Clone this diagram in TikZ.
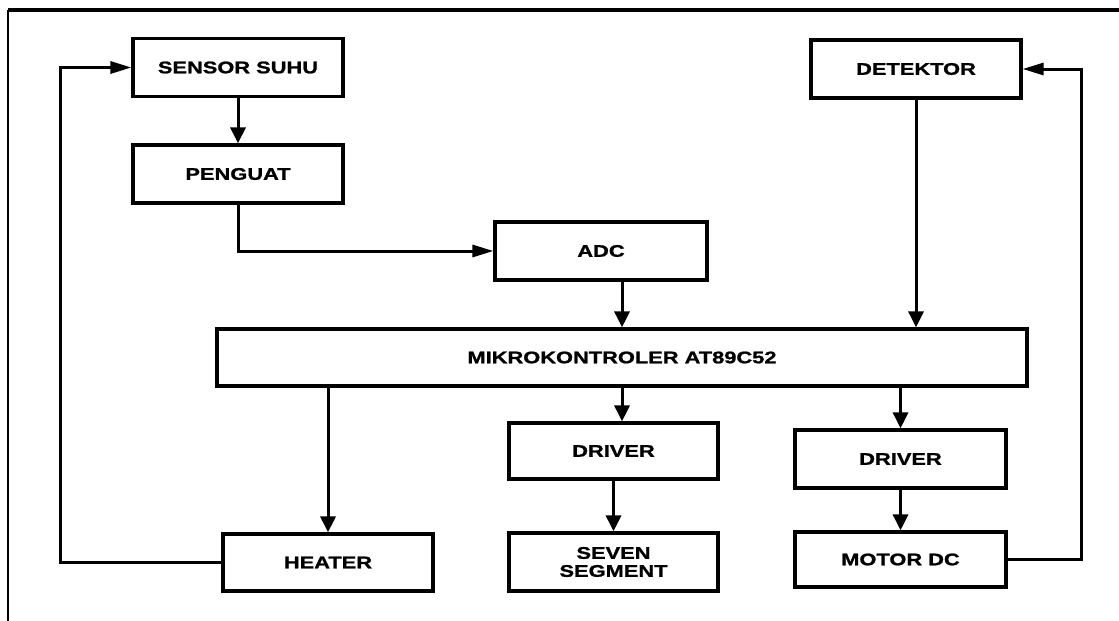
\documentclass[tikz,border=0pt]{standalone}
\usepackage{fontspec}
\newfontfamily\blokfont{Liberation Sans}[FakeStretch=1.3,BoldFeatures={FakeBold=1.2}]
\usepackage{tikz}
\usetikzlibrary{arrows.meta}

\begin{document}
\begin{tikzpicture}[x=1pt,y=-1pt,>={Triangle[length=16pt,width=15pt]},
  blok/.style={draw,line width=3.2pt,inner sep=0pt,minimum width=210pt,minimum height=58pt,
    align=center,font=\blokfont\bfseries\fontsize{16.8}{18}\selectfont},
  panah/.style={->,line width=3pt},
  balik/.style={-{Triangle[length=21pt,width=12pt]},line width=3pt}]
  \useasboundingbox (0,0) rectangle (1119,621);
  % bingkai
  \draw[line width=3.4pt] (8,10) -- (1119,10);
  \draw[line width=1.6pt] (8,10) -- (8,621);

  \node[blok] (sensor) at (238,67.5) {SENSOR SUHU};
  \node[blok] (penguat) at (238,174) {PENGUAT};
  \node[blok,minimum width=212pt] (adc) at (601,251) {ADC};
  \node[blok,minimum width=810pt,minimum height=57pt] (mikro) at (622,357.5) {MIKROKONTROLER AT89C52};
  \node[blok] (detektor) at (916,69) {DETEKTOR};
  \node[blok,minimum height=57pt] (heater) at (328,562.5) {HEATER};
  \node[blok,minimum width=209pt,minimum height=56pt] (drv1) at (613.5,451) {DRIVER};
  \node[blok,minimum width=209pt] (seven) at (613.5,562) {SEVEN\\SEGMENT};
  \node[blok,minimum width=211pt] (drv2) at (900.5,459) {DRIVER};
  \node[blok,minimum width=211pt,minimum height=55pt] (motor) at (900.5,559.5) {MOTOR DC};

  \draw[panah] (sensor) -- (penguat);
  \draw[balik] (penguat.south) |- (adc.west);
  \draw[panah] (mikro.north |- adc.south) -- (mikro.north);
  \draw[panah] (detektor.south) -- (detektor.south |- mikro.north);
  \draw[panah] (heater.north |- mikro.south) -- (heater.north);
  \draw[panah] (mikro.south) -- (mikro.south |- drv1.north);
  \draw[panah] (drv1.south -| seven.north) -- (seven.north);
  \draw[panah] (drv2.north |- mikro.south) -- (drv2.north);
  \draw[panah] (drv2) -- (motor);
  \draw[balik] (heater.west) -- ++(-161,0) |- (sensor.west);
  \draw[balik] (motor.east) -- ++(74,0) |- (detektor.east);
\end{tikzpicture}
\end{document}
